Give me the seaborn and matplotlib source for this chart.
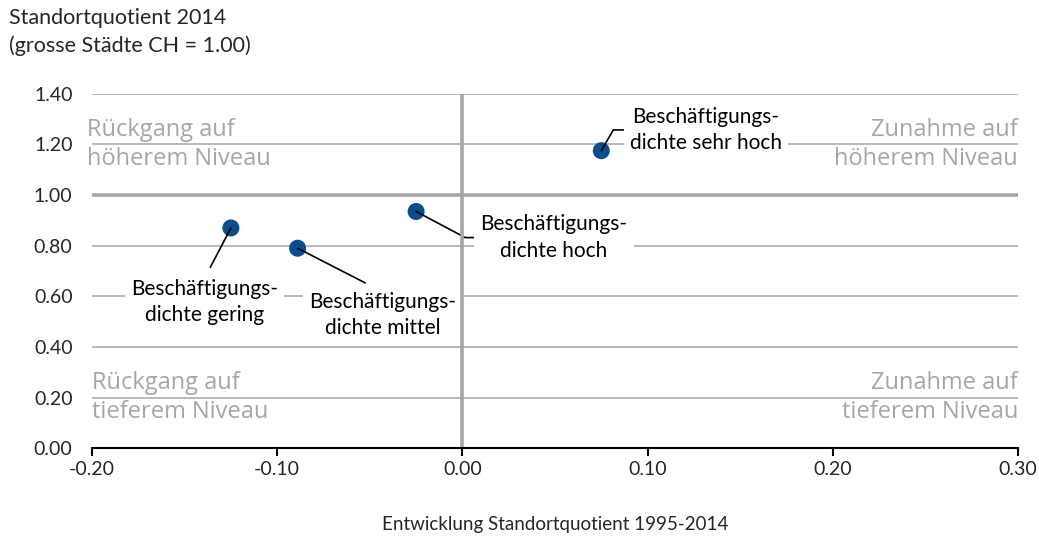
import numpy as np
import pandas as pd
import matplotlib
matplotlib.use("Agg")
import matplotlib.pyplot as plt
import seaborn as sns

# Employment-density groups: change of location quotient vs. level 2014
groups = [
    "Beschäftigungs-\ndichte sehr hoch",
    "Beschäftigungs-\ndichte hoch",
    "Beschäftigungs-\ndichte mittel",
    "Beschäftigungs-\ndichte gering",
]
change_1995_2014 = [0.075, -0.025, -0.089, -0.125]
quotient_2014 = [1.175, 0.935, 0.79, 0.87]

x_ticks = [-0.20, -0.10, 0.00, 0.10, 0.20, 0.30]
y_ticks = [0.00, 0.20, 0.40, 0.60, 0.80, 1.00, 1.20, 1.40]

quadrant_labels = [
    "Rückgang auf\nhöherem Niveau",
    "Zunahme auf\nhöherem Niveau",
    "Rückgang auf\ntieferem Niveau",
    "Zunahme auf\ntieferem Niveau",
]

df = pd.DataFrame({"group": groups, "change": change_1995_2014, "level": quotient_2014})

sns.set_style("white")
plt.rcParams["font.family"] = ["Lato", "DejaVu Sans"]

fig = plt.figure(figsize=(10.39, 5.36), dpi=100)
ax = fig.add_axes([92 / 1039, 1 - 448.3 / 536, 926 / 1039, 354.6 / 536])

GRID = "#b3b3b3"
QUAD = "#a6a6a6"
BLUE = "#0b4d8c"

ax.set_xlim(x_ticks[0], x_ticks[-1])
ax.set_ylim(y_ticks[0], y_ticks[-1])
ax.set_xticks(x_ticks)
ax.set_yticks(y_ticks)
ax.set_xticklabels([f"{v:.2f}" for v in x_ticks])
ax.set_yticklabels([f"{v:.2f}" for v in y_ticks])

for y in y_ticks[1:]:
    ax.axhline(y, color=GRID, lw=1.3, zorder=0.5)

# reference cross at the CH level (1.00) and zero change
ax.axhline(1.0, color=QUAD, lw=2.6, zorder=8)
ax.axvline(0.0, color=QUAD, lw=2.6, zorder=8)

for side in ["top", "right", "left"]:
    ax.spines[side].set_visible(False)
ax.spines["bottom"].set_color("black")
ax.spines["bottom"].set_linewidth(1.5)
ax.spines["bottom"].set_zorder(9)
ax.tick_params(axis="x", direction="out", length=5.5, width=1.5, color="black",
               pad=4, labelsize=14, bottom=True)
ax.tick_params(axis="y", length=0, pad=14, labelsize=14)

sns.scatterplot(data=df, x="change", y="level", ax=ax, s=150, color=BLUE,
                edgecolor="none", zorder=6, legend=False)

# data labels with leader lines
label_pos = [(0.0905, 1.257, "left"), (0.0097, 0.832, "left"),
             (-0.0432, 0.526, "center"), (-0.1393, 0.578, "center")]
leaders = [
    dict(relpos=(0, 0.5), connectionstyle="angle,angleA=0,angleB=60,rad=0", shrinkA=0),
    dict(relpos=(0, 0.5), connectionstyle="angle,angleA=0,angleB=-28,rad=0", shrinkA=0),
    dict(relpos=(0.5, 1), connectionstyle="arc3", shrinkA=4),
    dict(relpos=(0.5, 1), connectionstyle="arc3", shrinkA=4),
]
for txt, x, y, pos, ld in zip(groups, change_1995_2014, quotient_2014, label_pos, leaders):
    ax.annotate(
        txt, xy=(x, y), xytext=pos[:2], textcoords="data",
        ha=pos[2], va="center", multialignment="center",
        fontsize=15, linespacing=1.42, color="black", zorder=7,
        bbox=dict(boxstyle="square,pad=0.3", fc="white", ec="none"),
        arrowprops=dict(arrowstyle="-", color="black", lw=1.2, shrinkB=0,
                        relpos=ld["relpos"], shrinkA=ld["shrinkA"],
                        connectionstyle=ld["connectionstyle"]),
    )

# quadrant captions
quad_specs = [(-0.2025, 1.2, "left"), (0.30, 1.2, "right"),
              (-0.2, 0.2, "left"), (0.30, 0.2, "right")]
for (qx, qy, ha), txt in zip(quad_specs, quadrant_labels):
    ax.text(qx, qy, txt, ha=ha, va="center", color=QUAD, fontsize=17,
            linespacing=1.27, family=["Open Sans", "DejaVu Sans"], zorder=3)

fig.text(9 / 1039, 1 - 8 / 536, "Standortquotient 2014\n(grosse Städte CH = 1.00)",
         ha="left", va="top", fontsize=15.5, linespacing=1.45)
ax.set_xlabel("Entwicklung Standortquotient 1995-2014", fontsize=13.5, labelpad=27)
ax.set_ylabel("")

fig.savefig("out.png", dpi=100)
